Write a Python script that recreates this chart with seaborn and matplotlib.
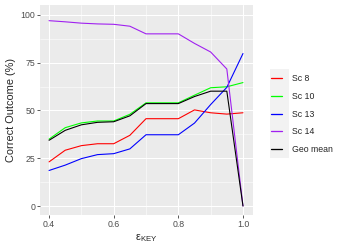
import numpy as np
import pandas as pd
import matplotlib
matplotlib.use("Agg")
import matplotlib.pyplot as plt
import seaborn as sns
from matplotlib.lines import Line2D
from matplotlib.patches import Rectangle
from matplotlib.ticker import MultipleLocator

# --- Data ---
eps_key = [0.4, 0.45, 0.5, 0.55, 0.6, 0.65, 0.7, 0.75, 0.8, 0.85, 0.9, 0.95, 1.0]
sc8 = [23.1, 29.2, 31.6, 32.6, 32.6, 37.0, 45.7, 45.7, 45.7, 50.3, 48.8, 48.1, 48.8]
sc10 = [35.0, 41.0, 43.5, 44.5, 44.5, 48.0, 54.0, 54.0, 54.0, 58.0, 61.9, 62.4, 64.6]
sc13 = [18.6, 21.4, 24.8, 26.9, 27.4, 29.9, 37.3, 37.3, 37.3, 43.4, 53.1, 62.1, 79.8]
sc14 = [97.0, 96.4, 95.7, 95.3, 95.1, 94.1, 90.1, 90.1, 90.1, 85.1, 80.6, 71.7, 0.0]
geo_mean = [34.4, 39.6, 42.5, 43.8, 44.1, 47.2, 53.6, 53.6, 53.6, 57.3, 60.1, 60.1, 0.0]

series_names = ["Sc 8", "Sc 10", "Sc 13", "Sc 14", "Geo mean"]
series_vals = [sc8, sc10, sc13, sc14, geo_mean]
colors = ["#FF0000", "#00FF00", "#0000FF", "#A020F0", "#000000"]

df = pd.concat(
    [pd.DataFrame({"eps": eps_key, "pct": v, "series": n}) for n, v in zip(series_names, series_vals)],
    ignore_index=True,
)

# --- Style (ggplot-like grey theme) ---
sns.set_theme(style="darkgrid")
plt.rcParams['font.family'] = ['Liberation Sans', 'DejaVu Sans']
plt.rcParams['mathtext.fontset'] = 'custom'
plt.rcParams['mathtext.rm'] = 'Liberation Sans'
plt.rcParams['mathtext.it'] = 'Liberation Sans'

dpi = 72
fig = plt.figure(figsize=(349 / dpi, 249 / dpi), dpi=dpi)
ax = fig.add_axes([40 / 349, 1 - 215 / 249, 213 / 349, 210 / 249])
ax.set_facecolor("#EBEBEB")

sns.lineplot(data=df, x="eps", y="pct", hue="series", hue_order=series_names,
             palette=colors, lw=1.1, ax=ax, legend=False, sort=False)

ax.set_xlim(0.372, 1.031)
ax.set_ylim(-4.7, 105.2)
ax.set_xticks([0.4, 0.6, 0.8, 1.0])
ax.set_xticklabels(["0.4", "0.6", "0.8", "1.0"])
ax.set_yticks([0, 25, 50, 75, 100])
ax.xaxis.set_minor_locator(MultipleLocator(0.1))
ax.yaxis.set_minor_locator(MultipleLocator(12.5))
ax.grid(which="major", color="white", lw=1.0)
ax.grid(which="minor", color="white", lw=0.5)
ax.set_axisbelow(True)
for s in ax.spines.values():
    s.set_visible(False)
ax.tick_params(which="major", length=2.75, width=0.8, color="#333333",
               labelsize=8.8, labelcolor="#4D4D4D", pad=2, bottom=True, left=True)
ax.tick_params(which="minor", length=0)

ax.set_xlabel(r"$\mathrm{\varepsilon_{KEY}}$", fontsize=11, labelpad=3)
ax.set_ylabel("Correct Outcome (%)", fontsize=11, labelpad=4)

# --- Legend ---
handles = [Line2D([], [], color=c, lw=1.3) for c in colors]
fig.patches.append(Rectangle((270 / 349, 1 - 158 / 249), 19 / 349, 89 / 249,
                             transform=fig.transFigure, facecolor="#F2F2F2",
                             edgecolor="none", zorder=0))
leg = fig.legend(handles, series_names, loc="upper left",
                 bbox_to_anchor=(271 / 349, 1 - 74 / 249), frameon=False,
                 fontsize=8.8, handlelength=1.2, handletextpad=1.2,
                 labelspacing=1.0, borderaxespad=0, borderpad=0)
leg.set_zorder(5)

fig.savefig("out.png", dpi=dpi)
